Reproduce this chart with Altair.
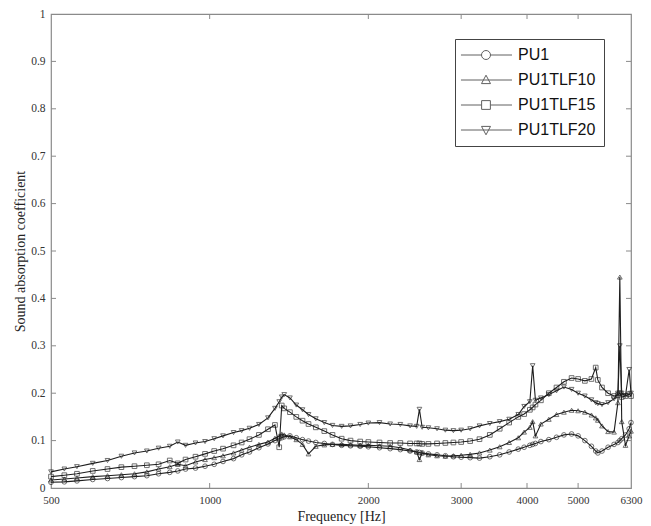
import altair as alt
import pandas as pd

# ---------------- data ----------------
freqs = [500, 530, 560, 600, 640, 680, 720, 760, 800, 840, 870, 900, 940, 980,
         1020, 1060, 1110, 1150, 1190, 1240, 1290, 1330, 1355, 1370, 1385, 1420,
         1460, 1500, 1540, 1590, 1650, 1710, 1780, 1850, 1930, 2000, 2100, 2200,
         2300, 2400, 2470, 2500, 2530, 2600, 2700, 2800, 2900, 3000, 3120, 3250,
         3400, 3550, 3700, 3850, 3950, 4050, 4100, 4150, 4250, 4400, 4550, 4700,
         4860, 5000, 5150, 5300, 5400, 5450, 5550, 5700, 5850, 5950, 6000, 6050,
         6150, 6250, 6300]

pu1 = [0.012, 0.013, 0.015, 0.018, 0.020, 0.022, 0.024, 0.026, 0.030, 0.033, 0.036,
       0.040, 0.042, 0.046, 0.050, 0.056, 0.062, 0.070, 0.076, 0.085, 0.093, 0.100,
       0.104, 0.106, 0.108, 0.110, 0.106, 0.102, 0.099, 0.096, 0.094, 0.092, 0.090,
       0.089, 0.088, 0.087, 0.085, 0.083, 0.081, 0.078, 0.076, 0.075, 0.074, 0.072,
       0.070, 0.068, 0.066, 0.065, 0.064, 0.063, 0.066, 0.070, 0.076, 0.082, 0.086,
       0.090, 0.092, 0.094, 0.098, 0.102, 0.107, 0.112, 0.114, 0.110, 0.100, 0.088,
       0.078, 0.074, 0.078, 0.086, 0.092, 0.096, 0.100, 0.104, 0.112, 0.125, 0.138]

tlf10 = [0.017, 0.019, 0.021, 0.024, 0.026, 0.028, 0.030, 0.034, 0.040, 0.045, 0.050,
         0.047, 0.055, 0.060, 0.064, 0.068, 0.074, 0.080, 0.086, 0.092, 0.097, 0.105,
         0.110, 0.114, 0.112, 0.108, 0.102, 0.092, 0.072, 0.088, 0.091, 0.092, 0.092,
         0.091, 0.090, 0.090, 0.089, 0.088, 0.085, 0.080, 0.076, 0.060, 0.074, 0.070,
         0.068, 0.067, 0.068, 0.069, 0.071, 0.074, 0.080, 0.087, 0.096, 0.106, 0.118,
         0.128, 0.140, 0.110, 0.135, 0.145, 0.155, 0.160, 0.164, 0.163, 0.160, 0.154,
         0.148, 0.143, 0.131, 0.119, 0.118, 0.180, 0.445, 0.140, 0.090, 0.110, 0.120]

tlf15 = [0.024, 0.027, 0.030, 0.036, 0.040, 0.044, 0.046, 0.048, 0.050, 0.058, 0.052,
         0.060, 0.066, 0.072, 0.078, 0.083, 0.090, 0.096, 0.103, 0.112, 0.124, 0.133,
         0.086, 0.174, 0.168, 0.160, 0.150, 0.142, 0.135, 0.128, 0.120, 0.112, 0.104,
         0.100, 0.098, 0.097, 0.096, 0.095, 0.095, 0.094, 0.094, 0.094, 0.093, 0.093,
         0.094, 0.095, 0.096, 0.097, 0.099, 0.103, 0.112, 0.125, 0.138, 0.150, 0.156,
         0.165, 0.170, 0.176, 0.185, 0.200, 0.212, 0.224, 0.232, 0.230, 0.226, 0.230,
         0.254, 0.228, 0.212, 0.200, 0.194, 0.196, 0.200, 0.192, 0.194, 0.198, 0.194]

tlf20 = [0.034, 0.040, 0.045, 0.052, 0.058, 0.067, 0.074, 0.078, 0.084, 0.088, 0.097,
         0.090, 0.095, 0.098, 0.104, 0.110, 0.117, 0.121, 0.126, 0.134, 0.148, 0.168,
         0.182, 0.192, 0.197, 0.190, 0.175, 0.165, 0.155, 0.146, 0.138, 0.132, 0.130,
         0.131, 0.134, 0.137, 0.138, 0.135, 0.134, 0.131, 0.130, 0.166, 0.128, 0.127,
         0.125, 0.122, 0.121, 0.122, 0.125, 0.131, 0.136, 0.140, 0.145, 0.155, 0.172,
         0.182, 0.258, 0.185, 0.190, 0.197, 0.205, 0.213, 0.208, 0.200, 0.194, 0.186,
         0.180, 0.178, 0.176, 0.180, 0.188, 0.200, 0.300, 0.200, 0.195, 0.250, 0.200]

series_names = ["PU1", "PU1TLF10", "PU1TLF15", "PU1TLF20"]
series_values = [pu1, tlf10, tlf15, tlf20]
marker_shapes = ["circle", "triangle-up", "square", "triangle-down"]
# legend glyphs: line segment with the series marker, in symbol units
legend_symbols = [
    "M-1.67,0H1.75M3.25,0H6.83M1.75,0A0.75,0.75,0,1,0,3.25,0A0.75,0.75,0,1,0,1.75,0",
    "M-1.67,0H6.83M1.75,0.6L2.5,-0.8L3.25,0.6Z",
    "M-1.67,0H1.77M3.23,0H6.83M1.77,-0.73H3.23V0.73H1.77Z",
    "M-1.67,0H6.83M1.75,-0.6L2.5,0.8L3.25,-0.6Z",
]

x_tick_labels = [500, 1000, 2000, 3000, 4000, 5000, 6300]
x_inner_ticks = [1000, 2000, 3000, 4000, 5000]
y_tick_labels = [0, 0.1, 0.2, 0.3, 0.4, 0.5, 0.6, 0.7, 0.8, 0.9, 1]
y_inner_ticks = [0.1, 0.2, 0.3, 0.4, 0.5, 0.6, 0.7, 0.8, 0.9]

rows = []
for name, vals in zip(series_names, series_values):
    assert len(vals) == len(freqs), name
    for f, v in zip(freqs, vals):
        rows.append({"freq": f, "value": v, "series": name})
df = pd.DataFrame(rows)

W, H = 580, 474
LINE = "#1e1e1e"
FRAME = "#8a8a8a"
SERIF = "Liberation Serif"

xscale = alt.Scale(type="log", domain=[500, 6300], nice=False)
yscale = alt.Scale(domain=[0, 1], nice=False)

xaxis = alt.Axis(values=x_tick_labels, format="d", title="Frequency [Hz]",
                 grid=False, ticks=False, domain=False, labelFlush=False,
                 labelPadding=6, labelFont=SERIF, labelFontSize=11,
                 labelColor="#333", titleFont=SERIF, titleFontSize=14,
                 titleFontWeight="normal", titleColor="#222", titlePadding=4)
yaxis = alt.Axis(values=y_tick_labels, format="~g",
                 title="Sound absorption coefficient",
                 grid=False, ticks=False, domain=False, labelFlush=False,
                 labelPadding=6, labelFont=SERIF, labelFontSize=11.5,
                 labelColor="#333", titleFont=SERIF, titleFontSize=14,
                 titleFontWeight="normal", titleColor="#222", titlePadding=3)

base = alt.Chart(df)

lines = base.mark_line(color=LINE, strokeWidth=1.1).encode(
    x=alt.X("freq:Q", scale=xscale, axis=xaxis),
    y=alt.Y("value:Q", scale=yscale, axis=yaxis),
    detail="series:N",
)

points = base.mark_point(color=LINE, filled=False, size=22, strokeWidth=0.9).encode(
    x=alt.X("freq:Q", scale=xscale),
    y=alt.Y("value:Q", scale=yscale),
    shape=alt.Shape("series:N",
                    scale=alt.Scale(domain=series_names, range=marker_shapes),
                    legend=None),
)

legend_layer = base.transform_filter("datum.freq < 0").mark_point(
    color=LINE, filled=False, strokeWidth=1).encode(
    x=alt.X("freq:Q", scale=xscale),
    y=alt.Y("value:Q", scale=yscale),
    shape=alt.Shape("series:N",
                    scale=alt.Scale(domain=series_names, range=legend_symbols),
                    legend=alt.Legend(
                        title=None, orient="none", legendX=404, legendY=25,
                        padding=8, strokeColor="#444", fillColor="white",
                        labelFont="Liberation Sans", labelFontSize=16,
                        labelColor="#111", symbolSize=144,
                        symbolStrokeWidth=1, symbolStrokeColor=LINE,
                        symbolFillColor="transparent", labelOffset=39,
                        rowPadding=9, cornerRadius=0)),
)

ytick_df = pd.DataFrame({"v": y_inner_ticks})
xtick_df = pd.DataFrame({"f": x_inner_ticks})

ytick_left = alt.Chart(ytick_df).mark_rule(color=FRAME).encode(
    y=alt.Y("v:Q", scale=yscale), x=alt.value(0), x2=alt.value(5))
ytick_right = alt.Chart(ytick_df).mark_rule(color=FRAME).encode(
    y=alt.Y("v:Q", scale=yscale), x=alt.value(W - 5), x2=alt.value(W))
xtick_bottom = alt.Chart(xtick_df).mark_rule(color=FRAME).encode(
    x=alt.X("f:Q", scale=xscale), y=alt.value(H), y2=alt.value(H - 5))
xtick_top = alt.Chart(xtick_df).mark_rule(color=FRAME).encode(
    x=alt.X("f:Q", scale=xscale), y=alt.value(0), y2=alt.value(5))

chart = alt.layer(
    ytick_left, ytick_right, xtick_bottom, xtick_top,
    lines, points, legend_layer,
).resolve_scale(shape="independent").properties(
    width=W, height=H,
    autosize=alt.AutoSizeParams(type="none"),
    padding={"left": 43, "top": 6, "right": 12, "bottom": 38},
    background="white",
).configure_view(stroke=FRAME, strokeWidth=1.2)

chart.save("out.html", embed_options={"renderer": "svg", "actions": False})
